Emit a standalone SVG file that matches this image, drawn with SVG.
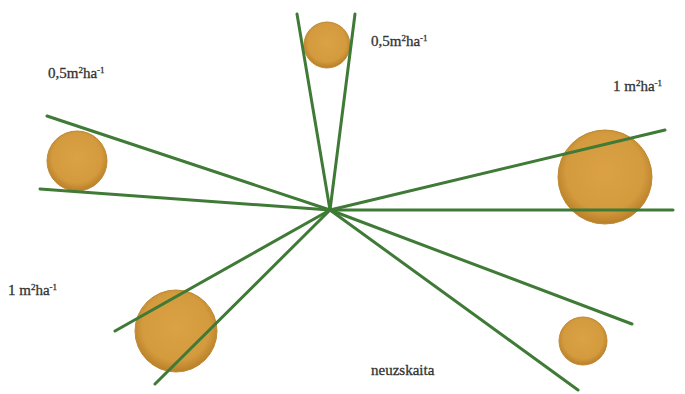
<svg xmlns="http://www.w3.org/2000/svg" width="685" height="394" viewBox="0 0 685 394">
<defs>
<radialGradient id="ball" cx="50%" cy="45%" r="55%">
<stop offset="0" stop-color="#dca145"/>
<stop offset="0.75" stop-color="#d39a3e"/>
<stop offset="1" stop-color="#b97f28"/>
</radialGradient>
</defs>
<style>
.ln{stroke:#3f7a36;stroke-width:3;stroke-linecap:round;fill:none}
.b{fill:url(#ball);stroke:#c08a33;stroke-width:1}
.t{font-family:"Liberation Serif","Times New Roman",serif;font-size:15px;fill:#333;stroke:#333;stroke-width:0.3}
.s{font-size:9px}
</style>
<rect width="685" height="394" fill="#fff"/>
<g id="ball-top"><circle class="b" cx="327" cy="45" r="23"/></g>
<g id="ball-left"><circle class="b" cx="77" cy="161" r="30"/></g>
<g id="ball-right"><circle class="b" cx="605" cy="177" r="47"/></g>
<g id="ball-lowerleft"><circle class="b" cx="176" cy="331" r="41"/></g>
<g id="ball-lowerright"><circle class="b" cx="583" cy="341" r="24"/></g>
<g id="connectors">
<line class="ln" x1="330" y1="210" x2="297" y2="14"/>
<line class="ln" x1="330" y1="210" x2="355" y2="14"/>
<line class="ln" x1="330" y1="210" x2="47" y2="116"/>
<line class="ln" x1="330" y1="210" x2="40" y2="189"/>
<line class="ln" x1="330" y1="210" x2="665" y2="130"/>
<line class="ln" x1="330" y1="210" x2="673" y2="210"/>
<line class="ln" x1="330" y1="210" x2="115" y2="331"/>
<line class="ln" x1="330" y1="210" x2="155" y2="384"/>
<line class="ln" x1="330" y1="210" x2="632" y2="324"/>
<line class="ln" x1="330" y1="210" x2="578" y2="390"/>
</g>
<g id="label-top"><text class="t" x="371" y="46">0,5m<tspan class="s" dy="-5">2</tspan><tspan dy="5">ha</tspan><tspan class="s" dy="-5">-1</tspan></text></g>
<g id="label-left"><text class="t" x="48" y="78">0,5m<tspan class="s" dy="-5">2</tspan><tspan dy="5">ha</tspan><tspan class="s" dy="-5">-1</tspan></text></g>
<g id="label-right"><text class="t" x="613" y="91">1 m<tspan class="s" dy="-5">2</tspan><tspan dy="5">ha</tspan><tspan class="s" dy="-5">-1</tspan></text></g>
<g id="label-lowerleft"><text class="t" x="8" y="295">1 m<tspan class="s" dy="-5">2</tspan><tspan dy="5">ha</tspan><tspan class="s" dy="-5">-1</tspan></text></g>
<g id="label-bottom"><text class="t" x="371" y="375">neuzskaita</text></g>
</svg>
